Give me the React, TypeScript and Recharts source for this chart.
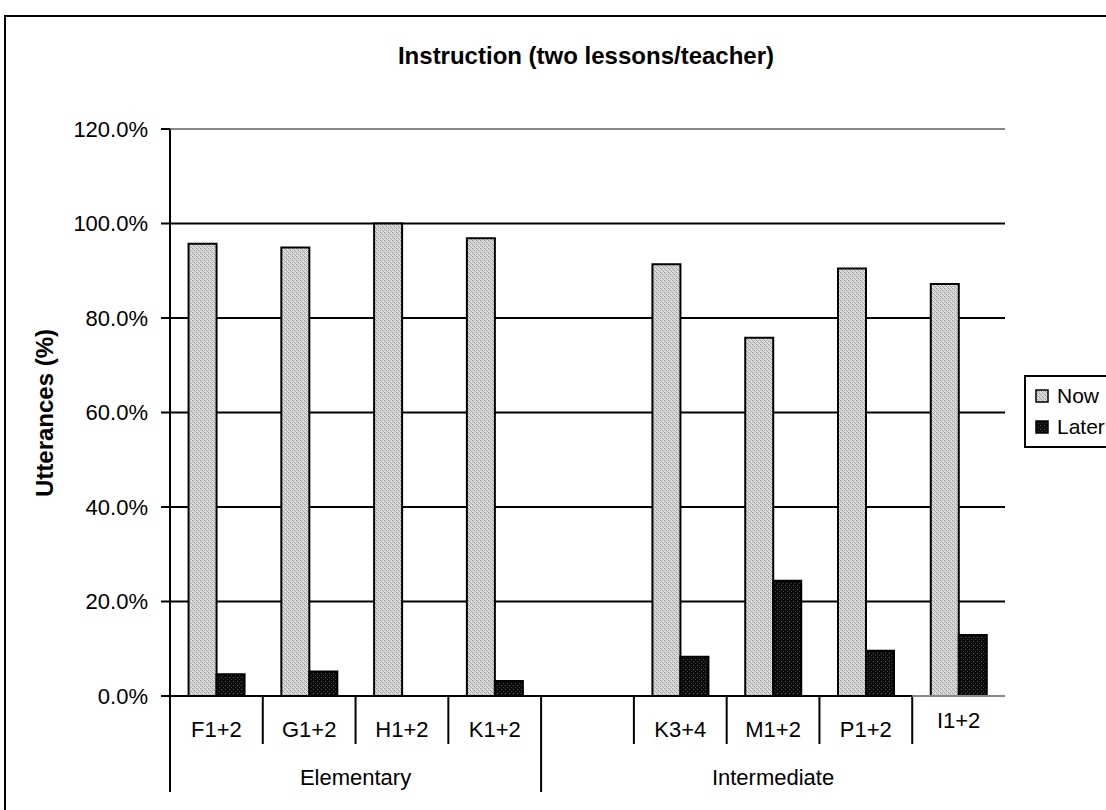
import React from 'react';
import {
  BarChart, Bar, XAxis, YAxis, CartesianGrid, ReferenceLine, Legend
} from 'recharts';

// --- data ---
const categories = ['F1+2', 'G1+2', 'H1+2', 'K1+2', '', 'K3+4', 'M1+2', 'P1+2', 'I1+2'];
const nowValues = [0.957, 0.949, 1.0, 0.969, null, 0.914, 0.758, 0.905, 0.872];
const laterValues = [0.046, 0.052, 0, 0.032, null, 0.083, 0.244, 0.096, 0.129];
const groupNames = ['Elementary', 'Intermediate'];
const groupSizes = [4, 5];
const yTicks = [0, 0.2, 0.4, 0.6, 0.8, 1, 1.2];

// --- layout ---
const W = 1106;
const H = 810;
const PLOT_LEFT = 170;
const PLOT_RIGHT = 1005;
const PLOT_TOP = 129;
const PLOT_BOTTOM = 696;
const BAND = (PLOT_RIGHT - PLOT_LEFT) / categories.length;
const FONT = "'Liberation Sans', Arial, sans-serif";

const data = categories.map((name, i) => ({
  name,
  Now: nowValues[i],
  Later: laterValues[i],
}));

// index where each group starts
const groupStarts = groupSizes.map((_, g) => groupSizes.slice(0, g).reduce((a, b) => a + b, 0));

const pct = (v: number) => `${(v * 100).toFixed(1)}%`;

const CategoryTick = (props: any) => {
  const { x, payload } = props;
  const index = props.index ?? payload.index;
  const left = x - BAND / 2;
  const g = groupStarts.indexOf(index);
  const isGroupStart = g >= 0;
  const isLast = index === categories.length - 1;
  // the last label sits a little higher
  const labelY = isLast ? PLOT_BOTTOM + 32 : PLOT_BOTTOM + 41;
  return (
    <g>
      <line
        x1={left} x2={left}
        y1={PLOT_BOTTOM} y2={PLOT_BOTTOM + (isGroupStart ? 96 : 48)}
        stroke="#000" strokeWidth={2}
      />
      {/* plot-area border shows through under the last category */}
      {isLast && (
        <line x1={left} x2={left + BAND} y1={PLOT_BOTTOM} y2={PLOT_BOTTOM} stroke="#888" strokeWidth={2} />
      )}
      <text x={x} y={labelY} textAnchor="middle" fontSize={22} fill="#000" fontFamily={FONT}>
        {payload.value}
      </text>
      {isGroupStart && (
        <text
          x={left + (groupSizes[g] * BAND) / 2}
          y={PLOT_BOTTOM + 89}
          textAnchor="middle" fontSize={22} fill="#000" fontFamily={FONT}
        >
          {groupNames[g]}
        </text>
      )}
    </g>
  );
};

const Swatch = ({ fill }: { fill: string }) => (
  <svg width={14} height={14} style={{ display: 'block', marginRight: 8 }}>
    <rect x={1} y={1} width={12} height={12} fill={fill} stroke="#000" strokeWidth={1.5} />
  </svg>
);

const LegendBox = () => (
  <div
    style={{
      border: '2px solid #000',
      background: '#fff',
      width: 130,
      height: 73,
      boxSizing: 'border-box',
      padding: '6px 0 0 9px',
      fontFamily: FONT,
      fontSize: 21,
    }}
  >
    {[['Now', 'url(#nowFill)'], ['Later', 'url(#laterFill)']].map(([name, fill]) => (
      <div key={name} style={{ display: 'flex', alignItems: 'center', height: 37, marginTop: -6 }}>
        <Swatch fill={fill} />
        <span>{name}</span>
      </div>
    ))}
  </div>
);

export default function App() {
  return (
    <div
      style={{
        position: 'absolute', left: 0, top: 0, width: W, height: H,
        overflow: 'hidden', background: '#fff',
      }}
    >
      {/* fill patterns for the two series */}
      <svg width={0} height={0} style={{ position: 'absolute' }}>
        <defs>
          <pattern id="nowFill" width={4} height={4} patternUnits="userSpaceOnUse">
            <rect width={4} height={4} fill="#dedede" />
            <rect x={0} y={0} width={1} height={1} fill="#9a9a9a" />
            <rect x={1} y={1} width={1} height={1} fill="#a8a8a8" />
            <rect x={2} y={2} width={1} height={1} fill="#9a9a9a" />
            <rect x={3} y={3} width={1} height={1} fill="#a8a8a8" />
            <rect x={2} y={0} width={1} height={1} fill="#bdbdbd" />
            <rect x={0} y={2} width={1} height={1} fill="#bdbdbd" />
          </pattern>
          <pattern id="laterFill" width={4} height={4} patternUnits="userSpaceOnUse">
            <rect width={4} height={4} fill="#0c0c0c" />
            <rect x={1} y={1} width={1} height={1} fill="#555" />
            <rect x={3} y={3} width={1} height={1} fill="#3a3a3a" />
          </pattern>
        </defs>
      </svg>

      {/* outer frame */}
      <div
        style={{
          position: 'absolute', left: 4, top: 15, width: 1200, height: 900,
          border: '2px solid #000',
        }}
      />

      <div
        style={{
          position: 'absolute', left: 386, top: 42, width: 400, textAlign: 'center',
          fontFamily: FONT, fontWeight: 'bold', fontSize: 24, lineHeight: '28px',
          whiteSpace: 'nowrap',
        }}
      >
        Instruction (two lessons/teacher)
      </div>

      <div
        style={{
          position: 'absolute', left: 45, top: (PLOT_TOP + PLOT_BOTTOM) / 2,
          transform: 'translate(-50%, -50%) rotate(-90deg)',
          fontFamily: FONT, fontWeight: 'bold', fontSize: 24, whiteSpace: 'nowrap',
        }}
      >
        Utterances (%)
      </div>

      <BarChart
        width={W}
        height={H}
        data={data}
        margin={{ top: PLOT_TOP, right: W - PLOT_RIGHT, left: PLOT_LEFT - 60, bottom: 14 }}
        barCategoryGap="20%"
        barGap={0}
        style={{ position: 'absolute', left: 0, top: 0 }}
      >
        <CartesianGrid yAxisId="left" vertical={false} stroke="#000" strokeWidth={2} />
        <XAxis
          dataKey="name"
          interval={0}
          height={100}
          tickLine={false}
          axisLine={{ stroke: '#000', strokeWidth: 2 }}
          tick={<CategoryTick />}
        />
        <YAxis
          yAxisId="left"
          width={60}
          domain={[0, 1.2]}
          ticks={yTicks}
          tickFormatter={pct}
          tickSize={9}
          tickMargin={13}
          axisLine={{ stroke: '#000', strokeWidth: 2 }}
          tickLine={{ stroke: '#000', strokeWidth: 2 }}
          tick={{ fontSize: 22, fill: '#000', fontFamily: FONT }}
        />
        <YAxis
          yAxisId="right"
          orientation="right"
          width={0}
          domain={[0, 1.2]}
          tick={false}
          tickLine={false}
          axisLine={{ stroke: '#888', strokeWidth: 2 }}
        />
        <ReferenceLine yAxisId="left" y={1.2} stroke="#888" strokeWidth={2} />
        <Legend
          layout="horizontal"
          align="center"
          verticalAlign="middle"
          content={<LegendBox />}
          wrapperStyle={{ left: 1024, top: 375, width: 130, height: 73 }}
        />
        <Bar
          yAxisId="left"
          dataKey="Now"
          fill="url(#nowFill)"
          stroke="#000"
          strokeWidth={2}
          isAnimationActive={false}
        />
        <Bar
          yAxisId="left"
          dataKey="Later"
          fill="url(#laterFill)"
          stroke="#000"
          strokeWidth={2}
          isAnimationActive={false}
        />
      </BarChart>
    </div>
  );
}
